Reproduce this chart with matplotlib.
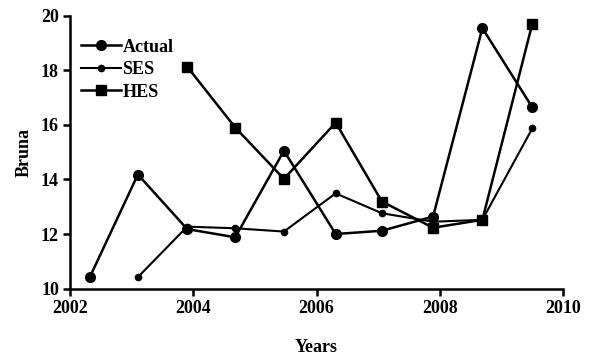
import matplotlib.pyplot as plt

# values
years = [2002.32, 2003.10, 2003.90, 2004.68, 2005.47, 2006.31, 2007.06, 2007.89, 2008.69, 2009.50]
actual = [10.42, 14.18, 12.18, 11.88, 15.05, 12.00, 12.12, 12.64, 19.54, 16.64]
ses_years = years[1:]
ses = [10.42, 12.27, 12.21, 12.09, 13.49, 12.76, 12.45, 12.52, 15.87]
hes_years = years[2:]
hes = [18.13, 15.90, 14.02, 16.08, 13.19, 12.23, 12.52, 19.70]

plt.rcParams['font.family'] = ['Liberation Serif', 'DejaVu Serif']
plt.rcParams['font.weight'] = 'bold'

fig = plt.figure(figsize=(5.94, 3.55), dpi=100)
ax = fig.add_axes([0.118, 0.187, 0.830, 0.769])

ax.plot(years, actual, color='black', lw=1.8, marker='o', ms=7, label='Actual')
ax.plot(ses_years, ses, color='black', lw=1.5, marker='o', ms=4.5, label='SES')
ax.plot(hes_years, hes, color='black', lw=1.8, marker='s', ms=7, label='HES')

ax.set_xlim(2002, 2010)
ax.set_ylim(10, 20)
ax.set_xticks([2002, 2004, 2006, 2008, 2010])
ax.set_yticks([10, 12, 14, 16, 18, 20])
ax.tick_params(direction='out', length=5, width=1.8, labelsize=13, pad=3)
for side in ['top', 'right']:
    ax.spines[side].set_visible(False)
for side in ['left', 'bottom']:
    ax.spines[side].set_linewidth(1.8)

ax.set_xlabel('Years', fontsize=13, fontweight='bold', labelpad=16)
ax.set_ylabel('Bruna', fontsize=13, fontweight='bold', labelpad=6)

ax.legend(loc='upper left', bbox_to_anchor=(0.0, 0.955), frameon=False,
          fontsize=13, handlelength=2.2, handletextpad=0.1, labelspacing=0.3,
          borderaxespad=0.2)

fig.savefig('out.png', dpi=100)
